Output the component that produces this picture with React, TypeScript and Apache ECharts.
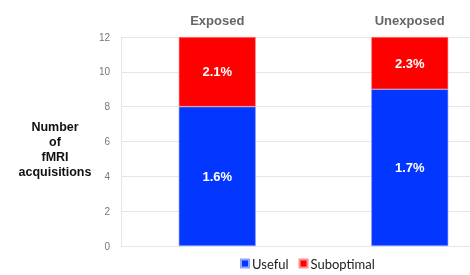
import React, { useEffect, useRef } from "react";
import * as echarts from "echarts";

const categories = ["Exposed", "Unexposed"];
const usefulValues = [8, 9];
const suboptimalValues = [4, 3];
const usefulLabels = ["1.6%", "1.7%"];
const suboptimalLabels = ["2.1%", "2.3%"];
const yTicks = { min: 0, max: 12, interval: 2 };
const yTitleLines = ["Number", "of", "fMRI", "acquisitions"];

export default function App() {
  const ref = useRef<HTMLDivElement>(null);
  useEffect(() => {
    if (!ref.current) return;
    const chart = echarts.init(ref.current, null, { renderer: "svg" });
    chart.setOption({
      animation: false,
      textStyle: { fontFamily: "Liberation Sans, Arial, sans-serif" },
      grid: { left: 121, width: 385, top: 37, bottom: 29, outerBoundsMode: "none", containLabel: false },
      legend: {
        data: ["Useful", "Suboptimal"],
        bottom: 0,
        left: 235,
        itemWidth: 8,
        itemHeight: 8,
        itemGap: 10,
        icon: "rect",
        textStyle: { fontSize: 13, color: "#222", fontFamily: "Lato, sans-serif", padding: [0, 0, 0, -2] },
      },
      xAxis: {
        type: "category",
        data: categories,
        position: "top",
        axisLine: { show: false },
        axisTick: { show: false },
        axisLabel: { color: "#666", fontWeight: "bold", fontSize: 13, margin: 10 },
      },
      yAxis: {
        type: "value",
        min: yTicks.min,
        max: yTicks.max,
        interval: yTicks.interval,
        axisLine: { show: true, lineStyle: { color: "#e6e6e6" } },
        axisTick: { show: false },
        splitLine: { lineStyle: { color: "#e6e6e6" } },
        axisLabel: { color: "#777", fontSize: 10, margin: 11 },
      },
      graphic: yTitleLines.map((t, i) => ({
        type: "text",
        x: 55,
        y: 127 + i * 15,
        style: {
          text: t,
          align: "center",
          textAlign: "center",
          verticalAlign: "middle",
          textVerticalAlign: "middle",
          fontSize: 12.5,
          fontWeight: "bold",
          fill: "#111",
          fontFamily: "Liberation Sans, Arial, sans-serif",
        },
      })),
      series: [
        {
          name: "Useful",
          type: "bar",
          stack: "total",
          data: usefulValues,
          barWidth: 77,
          itemStyle: { color: "#0336ff", borderColor: "#8fa3ff", borderWidth: 0.6 },
          label: {
            show: true,
            position: "inside",
            color: "#fff",
            fontWeight: "bold",
            fontSize: 13,
            formatter: (p: any) => usefulLabels[p.dataIndex],
          },
        },
        {
          name: "Suboptimal",
          type: "bar",
          stack: "total",
          data: suboptimalValues,
          barWidth: 77,
          itemStyle: { color: "#ff0000", borderColor: "#ff9090", borderWidth: 0.6 },
          label: {
            show: true,
            position: "inside",
            color: "#fff",
            fontWeight: "bold",
            fontSize: 13,
            formatter: (p: any) => suboptimalLabels[p.dataIndex],
          },
        },
      ],
    });
    return () => chart.dispose();
  }, []);
  return <div ref={ref} style={{ width: 470, height: 275, position: "fixed", left: 0, top: 0 }} />;
}
